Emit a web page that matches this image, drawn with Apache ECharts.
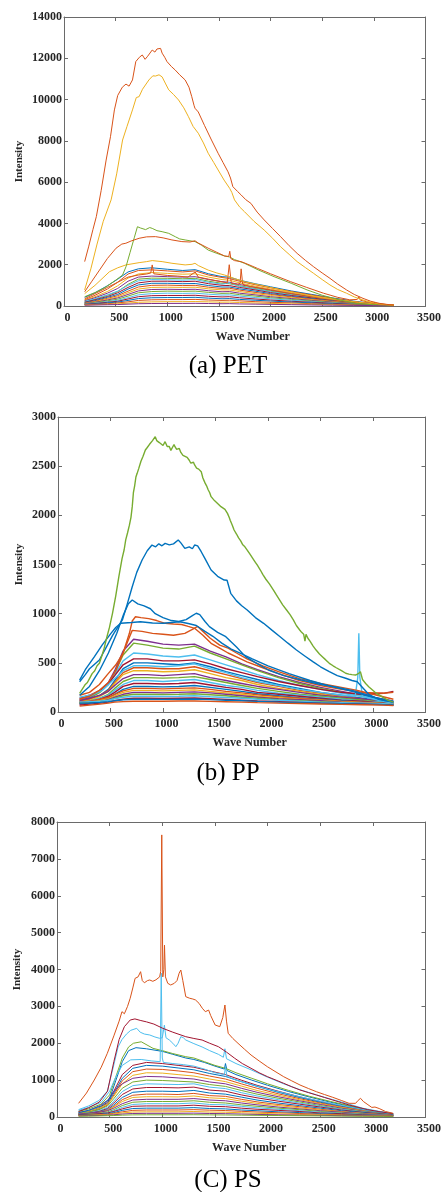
<!DOCTYPE html>
<html>
<head>
<meta charset="utf-8">
<script src="https://cdn.jsdelivr.net/npm/echarts@6/dist/echarts.min.js"></script>
<style>
  html, body { margin: 0; padding: 0; background: #fff; }
  #chart { width: 444px; height: 1192px; }
</style>
</head>
<body>
<div id="chart"></div>
<script>
// ---------- data ----------
const captions = ['(a) PET', '(b) PP', '(C) PS'];
const yMax = [14000, 3000, 8000];
const yStep = [2000, 500, 1000];

// PET: the big spectra, [wave number, intensity]
const petRed = [[200,2150],[240,2900],[280,3700],[313,4330],[360,5600],[408,7070],[450,8200],[488,9500],[520,10200],[565,10600],[600,10750],[630,10650],[663,10950],[695,11840],[730,12050],[758,12160],[785,11950],[810,12100],[854,12400],[880,12300],[900,12450],[918,12380],[935,12480],[950,12250],[975,12050],[997,11840],[1040,11600],[1077,11430],[1120,11200],[1173,10950],[1210,10600],[1237,10140],[1260,9700],[1268,9580],[1285,9620],[1300,9400],[1360,8750],[1428,8040],[1492,7400],[1540,6950],[1588,6500],[1600,6550],[1612,6200],[1635,5780],[1680,5550],[1715,5380],[1760,5150],[1810,4970],[1870,4550],[1938,4170],[2020,3750],[2097,3360],[2180,2920],[2257,2550],[2340,2200],[2417,1900],[2500,1600],[2575,1340],[2650,1060],[2735,780],[2810,560],[2895,370],[2970,230],[3054,130],[3120,80],[3193,50]];
const petYellow = [[200,780],[260,1800],[320,3000],[380,4100],[456,5140],[510,6400],[567,8040],[610,8700],[663,9500],[700,10100],[727,10140],[760,10500],[822,10950],[860,11150],[886,11140],[920,11200],[950,11100],[980,10800],[1014,10470],[1060,10250],[1109,9980],[1160,9600],[1205,9170],[1250,8700],[1300,8370],[1350,7900],[1396,7400],[1450,6950],[1492,6590],[1550,6100],[1604,5700],[1625,5500],[1651,5140],[1700,4800],[1747,4570],[1840,4100],[1938,3680],[2020,3280],[2097,2870],[2180,2500],[2257,2150],[2340,1850],[2417,1580],[2500,1280],[2575,1020],[2650,800],[2735,620],[2810,440],[2895,290],[2970,180],[3054,100],[3120,70],[3193,50]];
const petGreen = [[200,450],[300,650],[400,900],[500,1250],[567,1500],[600,1900],[640,2600],[680,3300],[711,3840],[740,3780],[790,3700],[830,3800],[854,3760],[900,3650],[950,3600],[1014,3520],[1080,3350],[1120,3250],[1173,3200],[1230,3150],[1269,3120],[1330,2950],[1396,2710],[1480,2550],[1556,2420],[1600,2380],[1650,2250],[1747,2070],[1880,1750],[2034,1420],[2200,1100],[2353,780],[2500,520],[2671,290],[2830,120],[3000,70],[3190,40]];
const petRed2 = [[200,690],[270,1200],[344,1740],[420,2300],[504,2800],[560,3000],[599,3040],[650,3150],[727,3280],[800,3350],[886,3360],[960,3300],[1045,3200],[1141,3120],[1220,3100],[1268,3160],[1300,3050],[1396,2800],[1480,2600],[1556,2420],[1595,2400],[1605,2650],[1615,2300],[1650,2200],[1715,2150],[1800,1980],[1874,1820],[2000,1560],[2193,1180],[2350,900],[2512,620],[2650,420],[2767,300],[2840,320],[2855,450],[2870,280],[2950,180],[3050,100],[3190,50]];
const petYellow2 = [[200,600],[300,1000],[440,1660],[520,1850],[599,1990],[727,2100],[800,2150],[854,2200],[950,2150],[1045,2070],[1173,1990],[1240,2020],[1268,2070],[1300,1960],[1396,1740],[1480,1600],[1556,1500],[1650,1330],[1747,1180],[1900,1010],[2034,860],[2200,680],[2353,530],[2500,400],[2671,290],[2850,180],[3000,100],[3190,50]];
const petOrange = [[200,350],[300,600],[420,900],[520,1150],[620,1400],[720,1500],[800,1550],[840,1600],[854,1990],[870,1560],[1000,1480],[1100,1450],[1200,1400],[1270,1650],[1300,1400],[1400,1300],[1500,1200],[1580,1120],[1600,2000],[1620,1100],[1680,1050],[1705,1100],[1715,1800],[1730,1050],[1800,950],[2000,780],[2200,600],[2400,440],[2600,300],[2800,180],[3000,90],[3190,40]];
// PET: the crowd of lower spectra, sampled at petWave
const petWave = [200,300,420,520,620,720,850,1000,1150,1270,1400,1530,1600,1700,1850,2000,2200,2400,2600,2800,3000,3190];
const petCrowd = [
  [420,640,980,1300,1650,1800,1850,1780,1720,1760,1560,1420,1400,1250,1080,930,730,560,390,240,110,40],
  [300,520,820,1150,1550,1720,1750,1700,1650,1700,1500,1380,1330,1200,1030,880,700,530,370,220,100,40],
  [280,450,700,980,1350,1550,1620,1580,1540,1560,1400,1280,1250,1120,960,820,650,490,340,200,90,40],
  [250,400,620,850,1200,1400,1450,1420,1400,1420,1280,1180,1150,1040,900,760,600,450,310,190,90,40],
  [200,330,520,700,1050,1300,1350,1340,1320,1340,1200,1100,1080,980,850,720,570,430,300,180,80,40],
  [220,350,540,720,1000,1220,1280,1270,1250,1280,1150,1060,1120,950,820,690,540,410,280,170,80,40],
  [180,300,460,640,900,1120,1200,1200,1180,1200,1080,1000,990,900,780,650,510,390,270,160,80,40],
  [160,260,420,560,820,1020,1100,1100,1080,1090,990,920,920,830,720,600,470,360,250,150,70,30],
  [140,230,370,500,720,920,1000,1010,990,1000,910,850,860,770,660,560,440,330,230,140,70,30],
  [120,200,330,440,640,820,900,910,900,910,830,780,780,700,600,510,400,300,210,130,60,30],
  [110,180,290,390,560,730,800,810,800,810,740,690,700,620,540,450,360,270,190,120,60,30],
  [100,160,250,330,480,640,700,720,710,720,660,610,620,550,480,400,320,240,170,100,50,30],
  [90,140,210,280,400,540,600,620,610,620,570,530,540,480,410,350,280,210,150,90,50,20],
  [80,120,180,230,340,450,500,510,510,520,470,440,450,400,340,290,230,180,130,80,40,20],
  [70,100,150,190,270,360,400,410,410,420,380,350,360,320,280,240,190,150,100,70,40,20],
  [60,80,110,150,200,270,300,310,310,320,290,270,280,250,210,180,150,110,80,50,30,20],
  [50,60,80,100,140,180,200,210,210,215,200,185,190,170,145,125,100,80,60,40,25,15],
  [40,50,60,70,90,110,120,125,125,130,120,110,115,100,90,80,65,50,40,30,20,10]
];

// PP: the big spectra (noisy traces read at close spacing)
const ppGreen = [[206,190],[230,230],[260,280],[280,300],[300,340],[325,390],[350,420],[372,470],[394,495],[420,580],[440,650],[460,740],[490,860],[519,1004],[550,1180],[580,1380],[610,1560],[630,1650],[645,1750],[662,1820],[680,1900],[695,1980],[707,2088],[718,2230],[730,2300],[742,2390],[754,2427],[770,2480],[790,2550],[810,2600],[832,2664],[850,2690],[870,2720],[885,2700],[900,2760],[915,2780],[926,2800],[940,2760],[950,2770],[965,2740],[980,2740],[1000,2710],[1020,2749],[1040,2700],[1060,2700],[1075,2660],[1090,2680],[1105,2720],[1114,2698],[1130,2670],[1140,2650],[1155,2680],[1170,2640],[1190,2610],[1208,2596],[1230,2590],[1250,2560],[1265,2530],[1280,2520],[1290,2540],[1301,2512],[1320,2480],[1340,2470],[1355,2460],[1364,2444],[1380,2380],[1400,2330],[1415,2300],[1430,2260],[1445,2230],[1458,2190],[1475,2170],[1490,2150],[1505,2140],[1520,2120],[1535,2100],[1552,2088],[1570,2080],[1590,2060],[1600,2040],[1614,2020],[1630,1980],[1640,1950],[1660,1900],[1677,1851],[1700,1810],[1720,1770],[1740,1740],[1760,1700],[1780,1680],[1802,1647],[1825,1610],[1850,1570],[1875,1530],[1900,1490],[1927,1444],[1950,1400],[1980,1350],[2015,1300],[2052,1240],[2080,1190],[2110,1140],[2140,1090],[2177,1037],[2210,990],[2240,940],[2270,880],[2302,834],[2320,810],[2340,790],[2352,720],[2362,790],[2380,750],[2400,720],[2430,670],[2458,630],[2490,590],[2520,560],[2550,530],[2584,495],[2620,470],[2650,450],[2700,420],[2740,394],[2770,385],[2800,380],[2834,376],[2860,390],[2880,410],[2900,330],[2930,290],[2959,257],[3020,200],[3084,156],[3140,120],[3194,100]];
const ppBlue = [[206,308],[260,380],[300,440],[394,529],[450,640],[520,780],[613,936],[660,1100],[707,1274],[750,1420],[801,1546],[850,1640],[895,1698],[930,1680],[960,1710],[990,1690],[1020,1715],[1060,1700],[1100,1710],[1145,1749],[1170,1720],[1208,1664],[1250,1680],[1280,1660],[1301,1698],[1330,1690],[1364,1630],[1400,1560],[1458,1444],[1520,1380],[1583,1342],[1610,1340],[1645,1207],[1700,1130],[1750,1080],[1802,1037],[1880,960],[1958,902],[2040,830],[2115,766],[2190,700],[2271,630],[2350,570],[2427,512],[2500,460],[2584,410],[2660,370],[2740,343],[2800,320],[2850,308],[2900,250],[2959,180],[3050,130],[3194,100]];
const ppBlue2 = [[206,170],[300,260],[394,420],[480,600],[560,800],[620,980],[670,1100],[707,1139],[760,1100],[820,1080],[880,1050],[926,1000],[1000,960],[1080,930],[1150,920],[1220,940],[1280,980],[1317,1004],[1350,990],[1400,920],[1442,868],[1520,810],[1598,766],[1700,660],[1786,563],[1900,490],[2005,427],[2150,370],[2318,325],[2480,285],[2630,257],[2800,220],[2950,170],[3100,120],[3194,100]];
const ppBlue3 = [[206,325],[260,430],[347,563],[420,680],[504,800],[550,860],[598,902],[700,910],[785,918],[900,905],[1004,902],[1080,910],[1160,918],[1240,900],[1317,880],[1400,820],[1475,770],[1560,700],[1650,640],[1750,590],[1850,540],[2000,470],[2200,390],[2400,320],[2600,260],[2800,210],[3000,150],[3194,110]];
const ppOrange = [[206,170],[300,200],[394,280],[470,380],[551,480],[620,600],[680,800],[707,925],[738,969],[790,960],[864,950],[940,930],[1020,902],[1100,895],[1177,890],[1240,870],[1301,851],[1380,780],[1458,698],[1540,650],[1620,600],[1700,560],[1800,510],[1950,450],[2100,390],[2300,320],[2500,270],[2700,230],[2900,200],[3100,190],[3194,200]];
const ppOrange2 = [[206,130],[300,160],[394,220],[480,300],[551,420],[620,600],[680,760],[707,830],[800,820],[900,800],[1000,790],[1100,780],[1208,800],[1280,840],[1330,870],[1380,820],[1450,750],[1540,680],[1620,650],[1700,600],[1800,540],[1950,470],[2100,410],[2300,340],[2500,290],[2700,250],[2850,220],[3000,180],[3194,130]];
const ppCyan = [[206,150],[300,170],[420,220],[520,320],[620,420],[720,470],[850,470],[1000,460],[1150,470],[1300,490],[1450,440],[1600,400],[1750,350],[1900,310],[2100,270],[2300,230],[2500,200],[2700,170],[2830,160],[2855,350],[2865,800],[2875,350],[2900,160],[3050,120],[3194,90]];
const ppWave = [206,300,400,480,540,620,720,850,1000,1150,1300,1450,1600,1750,1900,2100,2300,2500,2700,2900,3100,3194];
const ppCrowd = [
  [120,150,210,300,420,620,740,720,690,680,690,620,560,490,430,360,300,250,210,170,130,110],
  [110,140,200,280,400,580,700,680,650,640,670,600,540,480,420,350,290,240,200,160,120,100],
  [130,160,210,280,380,520,600,590,570,560,580,530,480,430,380,320,270,230,190,160,120,100],
  [140,170,220,290,370,480,540,540,520,520,530,490,440,400,360,310,270,230,200,180,190,210],
  [100,130,170,230,320,440,500,500,490,480,500,460,410,370,330,280,240,200,170,140,110,90],
  [110,130,170,220,300,400,450,450,440,440,460,420,380,340,300,260,220,190,160,130,100,80],
  [100,120,160,210,290,380,420,420,410,415,430,390,350,320,280,240,210,180,150,120,100,80],
  [120,140,170,210,270,340,380,380,370,380,390,350,320,290,260,230,200,170,150,130,110,100],
  [90,110,140,180,240,310,350,350,345,350,360,330,300,270,240,210,180,160,140,120,100,80],
  [100,110,140,170,220,280,320,320,310,320,330,300,270,250,220,190,170,150,130,110,100,80],
  [90,100,130,160,200,260,290,290,285,290,300,275,250,230,200,180,160,140,120,110,90,80],
  [80,95,115,140,180,230,260,260,255,260,270,250,230,210,185,165,145,130,115,100,90,75],
  [100,110,130,150,180,215,240,240,235,240,245,230,210,195,175,155,140,125,110,100,90,80],
  [90,100,115,135,165,200,220,220,215,220,225,210,195,180,160,145,130,120,105,95,85,75],
  [80,90,105,125,150,180,200,200,195,200,205,195,180,165,150,135,125,115,100,90,80,70],
  [90,95,105,120,140,165,180,180,178,180,185,175,165,150,140,125,115,105,95,85,80,70],
  [100,105,110,120,135,150,160,160,158,160,165,155,148,140,130,120,110,100,95,90,85,80],
  [70,80,90,100,115,130,140,140,138,140,142,135,128,120,112,105,98,90,85,80,75,70],
  [90,92,98,105,115,125,130,130,128,130,132,126,120,114,108,100,95,90,85,80,75,70],
  [60,70,80,90,100,105,110,110,110,112,112,108,104,100,95,90,86,82,78,74,70,65]
];

// PS
const psOrange = [[205,371],[280,650],[354,1003],[420,1350],[478,1727],[540,2200],[590,2600],[617,2856],[640,2800],[670,3000],[695,3219],[720,3500],[742,3761],[770,3800],[794,3941],[810,3700],[830,3640],[860,3700],[881,3715],[910,3680],[940,3720],[958,3715],[975,3800],[985,3950],[995,7650],[1005,3800],[1015,4000],[1021,4660],[1030,3800],[1052,3625],[1080,3580],[1114,3625],[1140,3700],[1160,3900],[1176,3986],[1195,3700],[1223,3263],[1260,3220],[1290,3200],[1316,3173],[1350,3080],[1380,2950],[1409,2856],[1440,2900],[1460,2750],[1502,2495],[1546,2450],[1575,2700],[1595,3037],[1610,2600],[1626,2270],[1670,2130],[1719,1999],[1780,1840],[1843,1681],[1920,1520],[1998,1364],[2080,1220],[2153,1093],[2230,980],[2308,868],[2390,770],[2464,686],[2540,610],[2619,534],[2700,450],[2774,371],[2836,371],[2860,450],[2883,507],[2910,420],[2945,350],[2990,260],[3020,270],[3037,300],[3060,230],[3120,150],[3193,100]];
const psDarkRed = [[205,150],[300,250],[400,400],[480,700],[540,1500],[590,2100],[640,2450],[695,2630],[740,2660],[790,2620],[850,2580],[920,2520],[1005,2405],[1100,2300],[1223,2178],[1300,2130],[1378,2088],[1450,2000],[1533,1907],[1610,1760],[1688,1592],[1760,1450],[1843,1321],[1920,1200],[1998,1095],[2080,1000],[2153,914],[2230,820],[2308,733],[2390,660],[2464,597],[2540,530],[2619,461],[2700,390],[2774,326],[2850,270],[2950,200],[3050,150],[3193,90]];
const psLightBlue = [[205,200],[300,300],[400,450],[478,700],[530,1300],[580,1900],[617,2100],[660,2250],[700,2350],[757,2405],[790,2300],[830,2250],[881,2224],[930,2170],[974,2134],[1000,2150],[1020,2490],[1035,2150],[1067,2088],[1100,2000],[1129,1907],[1150,2000],[1176,2178],[1200,2150],[1223,2088],[1300,1990],[1378,1900],[1450,1800],[1533,1700],[1580,1620],[1595,1850],[1610,1580],[1700,1450],[1843,1280],[2000,1080],[2153,900],[2308,740],[2464,600],[2619,470],[2774,350],[2900,240],[3050,160],[3193,90]];
const psCyan = [[205,180],[300,260],[420,400],[500,700],[560,1100],[620,1400],[700,1550],[800,1560],[900,1520],[980,1500],[990,3900],[1000,1600],[1010,1480],[1100,1450],[1200,1420],[1300,1380],[1400,1300],[1500,1200],[1590,1150],[1600,1350],[1615,1100],[1700,1000],[1850,880],[2000,760],[2200,620],[2400,490],[2600,370],[2800,260],[3000,160],[3193,90]];
const psGreen = [[205,150],[300,220],[420,350],[500,600],[560,1100],[620,1600],[680,1900],[726,2000],[800,2040],[912,1862],[1000,1800],[1100,1720],[1223,1636],[1300,1600],[1400,1500],[1500,1400],[1600,1320],[1700,1200],[1850,1050],[2000,900],[2200,720],[2400,560],[2600,420],[2800,290],[3000,170],[3193,90]];
const psBlue = [[205,120],[300,180],[420,300],[500,500],[560,1000],[620,1500],[680,1800],[750,1880],[850,1850],[1000,1780],[1100,1700],[1223,1600],[1300,1560],[1400,1480],[1500,1380],[1590,1300],[1600,1450],[1615,1260],[1700,1150],[1850,1000],[2000,860],[2200,690],[2400,540],[2600,400],[2800,280],[3000,160],[3193,80]];
const psWave = [205,300,400,480,540,620,720,850,1000,1150,1300,1450,1600,1750,1900,2100,2300,2500,2700,2900,3100,3193];
const psCrowd = [
  [100,150,250,400,700,1150,1400,1480,1450,1400,1350,1250,1150,1000,860,700,550,420,300,200,110,70],
  [90,140,230,370,650,1050,1320,1400,1380,1330,1280,1180,1100,960,830,670,530,400,290,190,100,60],
  [80,120,200,330,600,980,1230,1300,1290,1250,1200,1110,1030,900,780,630,500,380,270,180,100,60],
  [100,150,240,350,560,900,1130,1200,1190,1150,1110,1030,960,840,720,590,470,360,260,170,100,60],
  [120,180,300,450,700,900,1050,1100,1090,1060,1030,950,900,780,670,550,440,340,240,160,90,60],
  [90,130,200,300,500,780,950,1000,990,970,950,880,830,720,620,510,410,310,220,150,90,50],
  [80,110,170,260,430,690,850,900,890,880,900,810,770,660,570,470,380,290,210,140,80,50],
  [70,100,150,230,380,610,760,800,800,790,810,730,700,600,520,430,350,270,190,130,80,50],
  [60,90,140,200,330,530,670,700,700,690,720,650,620,540,460,380,310,240,170,120,70,50],
  [60,80,120,180,290,470,590,620,620,610,640,580,560,480,410,340,280,210,150,100,70,40],
  [70,90,130,180,270,420,530,550,550,545,570,520,500,430,370,310,250,190,140,100,60,40],
  [80,100,130,170,240,360,460,480,480,480,500,460,440,380,330,270,220,170,130,90,60,40],
  [60,80,100,140,200,310,400,420,420,420,440,400,380,330,290,240,200,150,110,80,50,40],
  [50,70,90,120,170,260,340,360,360,360,380,340,330,290,250,210,170,130,100,70,50,30],
  [60,70,90,110,150,220,290,300,300,300,320,290,280,240,210,180,150,110,90,60,45,30],
  [50,60,70,90,120,180,230,240,240,240,255,230,220,190,170,140,120,90,70,50,40,30],
  [40,50,60,75,100,140,180,190,190,190,200,185,175,155,135,115,95,75,60,45,35,25],
  [40,45,55,65,85,110,135,140,140,140,150,135,130,115,100,85,70,60,45,35,30,20],
  [30,35,40,50,60,80,95,100,100,100,105,95,90,80,70,60,50,45,35,30,25,20],
  [20,25,30,35,40,50,58,60,60,60,62,58,55,50,45,40,35,30,25,20,18,15]
];

// ---------- styling / layout ----------
const palette = ['#0072BD','#D95319','#EDB120','#7E2F8E','#77AC30','#4DBEEE','#A2142F'];
const serif = '"Liberation Serif", "DejaVu Serif", serif';
const ink = '#262626';
const frame = '#6a6a6a';

const panels = [
  { grid: { left: 64, top: 17, width: 366, height: 289 }, nameGapY: 39, capY: 366, width: 1,
    wave: petWave, crowd: petCrowd,
    main: [[petOrange,1],[petYellow2,2],[petGreen,4],[petRed2,1],[petYellow,2],[petRed,1]] },
  { grid: { left: 58, top: 417, width: 373, height: 295 }, nameGapY: 33, capY: 773, width: 1.4,
    wave: ppWave, crowd: ppCrowd,
    main: [[ppCyan,5],[ppOrange2,1],[ppOrange,1],[ppBlue3,0],[ppBlue2,0],[ppBlue,0],[ppGreen,4]] },
  { grid: { left: 57, top: 822, width: 376, height: 295 }, nameGapY: 34, capY: 1180, width: 1,
    wave: psWave, crowd: psCrowd,
    main: [[psBlue,0],[psGreen,4],[psCyan,5],[psLightBlue,5],[psDarkRed,6],[psOrange,1]] }
];

const grids = [], xAxes = [], yAxes = [], series = [], graphics = [];
const tick = { show: true, inside: true, length: 4, lineStyle: { color: frame, width: 1 } };
const line = { show: true, onZero: false, lineStyle: { color: frame, width: 1 } };
const labelStyle = { fontFamily: serif, fontWeight: 'bold', fontSize: 12, color: ink };

panels.forEach((p, i) => {
  grids.push(Object.assign({ containLabel: false }, p.grid));
  const xBase = { gridIndex: i, type: 'value', min: 0, max: 3500, interval: 500, splitLine: { show: false }, axisLine: line, axisTick: tick };
  xAxes.push(Object.assign({}, xBase, {
    position: 'bottom',
    axisLabel: Object.assign({ margin: 6, padding: [0, 0, 0, 7], formatter: v => String(v) }, labelStyle),
    name: 'Wave Number', nameLocation: 'middle', nameGap: 25, nameMoveOverlap: false,
    nameTextStyle: Object.assign({ padding: [0, 0, 0, 16] }, labelStyle)
  }));
  xAxes.push(Object.assign({}, xBase, { position: 'top', axisLabel: { show: false } }));
  const yBase = { gridIndex: i, type: 'value', min: 0, max: yMax[i], interval: yStep[i], splitLine: { show: false }, axisLine: line, axisTick: tick };
  yAxes.push(Object.assign({}, yBase, {
    position: 'left',
    axisLabel: Object.assign({ margin: 2, formatter: v => String(v) }, labelStyle),
    name: 'Intensity', nameLocation: 'middle', nameGap: p.nameGapY, nameMoveOverlap: false,
    nameTextStyle: Object.assign({}, labelStyle, { fontSize: 11 })
  }));
  yAxes.push(Object.assign({}, yBase, { position: 'right', axisLabel: { show: false } }));

  const base = { type: 'line', xAxisIndex: i * 2, yAxisIndex: i * 2, showSymbol: false, symbol: 'none', silent: true, animation: false };
  p.crowd.forEach((row, k) => {
    series.push(Object.assign({}, base, {
      data: p.wave.map((w, j) => [w, row[j]]),
      lineStyle: { width: p.width, color: palette[(k + i * 3) % palette.length] }
    }));
  });
  p.main.forEach(([pts, c]) => {
    series.push(Object.assign({}, base, { data: pts, lineStyle: { width: p.width, color: palette[c] } }));
  });

  graphics.push({
    type: 'text', x: 228, y: p.capY,
    style: { text: captions[i], font: '25px ' + serif, fill: '#000', align: 'center', verticalAlign: 'middle' }
  });
});

const chart = echarts.init(document.getElementById('chart'), null, { renderer: 'canvas' });
chart.setOption({
  backgroundColor: '#fff',
  animation: false,
  grid: grids,
  xAxis: xAxes,
  yAxis: yAxes,
  series: series,
  graphic: graphics
});
window.addEventListener('resize', () => chart.resize());
</script>
</body>
</html>
